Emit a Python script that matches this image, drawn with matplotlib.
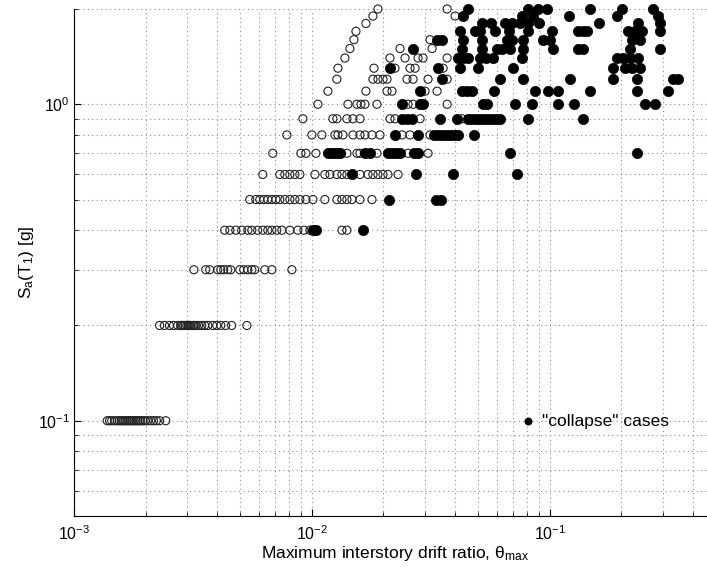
import numpy as np
import matplotlib.pyplot as plt

# Sa(T1) levels [g] and max interstory drift (in %)
# nc_* = non-collapse runs (open circles), c_* = "collapse" runs (filled)
nc_010 = [0.138, 0.141, 0.144, 0.148, 0.152, 0.155, 0.158, 0.161, 0.164, 0.167,
          0.170, 0.173, 0.176, 0.179, 0.182, 0.185, 0.188, 0.191, 0.195, 0.199,
          0.204, 0.210, 0.216, 0.222, 0.229, 0.243]
nc_020 = [0.229, 0.240, 0.252, 0.262, 0.273, 0.281, 0.285, 0.289, 0.293, 0.298,
          0.302, 0.306, 0.310, 0.316, 0.320, 0.325, 0.334, 0.344, 0.354, 0.365,
          0.383, 0.398, 0.414, 0.434, 0.460, 0.533]
nc_030 = [0.319, 0.358, 0.372, 0.402, 0.414, 0.426, 0.443, 0.456, 0.498, 0.517,
          0.538, 0.559, 0.575, 0.634, 0.679, 0.824]
nc_040 = [0.430, 0.452, 0.479, 0.507, 0.538, 0.559, 0.592, 0.622, 0.653, 0.679,
          0.712, 0.748, 0.808, 0.873, 0.926, 0.981, 1.338, 1.404]
c_040 = [1.010, 1.040, 1.639]
nc_050 = [0.548, 0.581, 0.604, 0.628, 0.653, 0.679, 0.706, 0.733, 0.770, 0.808,
          0.848, 0.890, 0.944, 1.010, 1.134, 1.274, 1.338, 1.404, 1.474, 1.593, 1.789]
c_050 = [2.110, 3.327, 3.493]
nc_060 = [0.622, 0.733, 0.770, 0.808, 0.848, 0.890, 1.030, 1.134, 1.191, 1.274,
          1.338, 1.404, 1.593, 1.721, 1.806, 1.896, 1.991, 2.089, 2.302]
c_060 = [1.474, 2.742, 3.925, 7.297]
nc_070 = [0.685, 0.899, 0.944, 1.040, 1.404, 1.547, 1.593, 1.878, 2.536, 3.079]
c_070 = [1.168, 1.202, 1.238, 1.274, 1.312, 1.672, 1.755, 2.089, 2.172, 2.258,
         2.347, 2.689, 2.795, 6.820, 23.35]
nc_080 = [0.785, 1.000, 1.102, 1.250, 1.287, 1.351, 1.488, 1.593, 1.672, 1.789,
          1.933, 2.393, 2.586, 3.139]
c_080 = [2.236, 2.795, 3.264, 3.393, 3.528, 3.667, 3.812, 3.963, 4.120, 4.810]
nc_090 = [0.917, 1.226, 1.274, 1.404, 1.488, 1.593, 2.130, 2.236, 2.850, 4.282]
c_090 = [2.393, 2.512, 2.637, 3.460, 4.078, 4.537, 4.717, 4.903, 5.098, 5.300,
         5.511, 5.728, 5.955, 6.190, 8.121, 13.84]
nc_100 = [1.060, 1.418, 1.547, 1.608, 1.672, 1.878, 2.536, 2.663, 3.703]
c_100 = [2.393, 2.850, 2.934, 5.248, 5.456, 7.156, 8.441, 10.86, 12.68, 25.24, 27.81]
nc_110 = [1.168, 1.688, 2.069, 2.172, 2.991, 3.360]
c_110 = [2.850, 4.282, 4.493, 4.717, 5.840, 8.690, 9.856, 10.86, 14.81, 23.35, 31.54]
nc_120 = [1.274, 1.806, 1.896, 1.991, 2.069, 2.512, 2.663, 3.079, 3.703]
c_120 = [3.528, 6.190, 7.732, 12.20, 18.51, 23.35, 33.11, 34.76]
nc_130 = [1.287, 1.824, 2.236, 2.586, 2.716, 3.562]
c_130 = [2.130, 3.393, 4.200, 5.000, 7.018, 18.51, 20.79, 22.25, 24.05]
nc_140 = [1.377, 2.130, 2.464, 2.795, 2.934, 3.703]
c_140 = [4.120, 4.323, 4.537, 5.098, 5.404, 5.783, 7.658, 19.24, 20.39, 21.83, 23.59]
nc_150 = [1.445, 2.347, 3.201]
c_150 = [2.663, 4.282, 5.198, 6.012, 6.310, 6.820, 7.732, 10.34, 13.18, 13.84, 21.83, 29.19]
nc_160 = [1.503, 3.139]
c_160 = [3.360, 3.528, 4.323, 5.198, 6.624, 6.951, 7.732, 9.389, 10.05, 22.25, 24.05]
nc_170 = [1.532]
c_170 = [4.200, 4.857, 5.098, 5.895, 6.753, 8.121, 10.24, 13.18, 13.84, 14.38,
         21.40, 22.91, 24.52, 29.19]
nc_180 = [1.688]
c_180 = [5.198, 5.671, 6.495, 6.951, 7.511, 8.121, 9.033, 16.16, 23.59, 29.19]
nc_190 = [1.806, 4.000]
c_190 = [4.323, 7.658, 8.523, 12.08, 19.24, 28.63]
nc_200 = [1.896, 3.703]
c_200 = [4.537, 8.121, 8.945, 9.761, 14.81, 20.20, 27.28]

levels = [0.1, 0.2, 0.3, 0.4, 0.5, 0.6, 0.7, 0.8, 0.9, 1.0,
          1.1, 1.2, 1.3, 1.4, 1.5, 1.6, 1.7, 1.8, 1.9, 2.0]
noncollapse = [nc_010, nc_020, nc_030, nc_040, nc_050, nc_060, nc_070, nc_080,
               nc_090, nc_100, nc_110, nc_120, nc_130, nc_140, nc_150, nc_160,
               nc_170, nc_180, nc_190, nc_200]
collapse = [[], [], [], c_040, c_050, c_060, c_070, c_080, c_090, c_100,
            c_110, c_120, c_130, c_140, c_150, c_160, c_170, c_180, c_190, c_200]

x_nc = np.concatenate([np.array(r) / 100 for r in noncollapse])
y_nc = np.concatenate([[lv] * len(r) for lv, r in zip(levels, noncollapse)])
x_c = np.concatenate([np.array(r) / 100 for r in collapse if r])
y_c = np.concatenate([[lv] * len(r) for lv, r in zip(levels, collapse) if r])

plt.rcParams['font.family'] = ['Liberation Sans', 'DejaVu Sans']
plt.rcParams['mathtext.fontset'] = 'custom'
plt.rcParams['mathtext.rm'] = 'Liberation Sans'
plt.rcParams['mathtext.it'] = 'Liberation Sans'

fig = plt.figure(figsize=(7.07, 5.69), dpi=100)
# axes runs a little past the right edge of the picture (cropped original)
ax = fig.add_axes([74 / 707, 53 / 569, 642 / 707, 507 / 569])

ax.scatter(x_nc, y_nc, s=34, facecolors='none', edgecolors='#222222',
           linewidths=0.8, clip_on=False, zorder=3)
pts_c = ax.scatter(x_c, y_c, s=55, facecolors='black', edgecolors='black',
                   linewidths=0.5, clip_on=False, zorder=4)

ax.set_xscale('log')
ax.set_yscale('log')
ax.set_xlim(1e-3, 0.5)
ax.set_ylim(0.05, 2)

ax.grid(True, which='both', linestyle=(0, (1, 3)), color='0.55', linewidth=0.8)
ax.set_axisbelow(True)
for s in ['top', 'right']:
    ax.spines[s].set_visible(False)
ax.tick_params(which='both', direction='in', labelsize=11.5, top=False, right=False)
ax.tick_params(which='major', length=5)
ax.tick_params(which='minor', length=3)
ax.tick_params(axis='y', which='major', pad=3)
ax.tick_params(axis='x', which='major', pad=6)
ax.yaxis.set_minor_formatter(plt.NullFormatter())
ax.xaxis.set_minor_formatter(plt.NullFormatter())

ax.set_xlabel(r'Maximum interstory drift ratio, $\theta_{\rm max}$', fontsize=12.5, labelpad=1)
ax.set_ylabel(r'S$_{\rm a}$(T$_{\rm 1}$) [g]', fontsize=12.5, labelpad=1)

leg = ax.legend([pts_c], ['"collapse" cases'], loc='center left',
                bbox_to_anchor=(0.696, 0.187), frameon=False, fontsize=12.5,
                handlelength=0.8, handletextpad=0.4, borderpad=0, borderaxespad=0,
                markerscale=0.7)

fig.savefig('out.png', dpi=100)
